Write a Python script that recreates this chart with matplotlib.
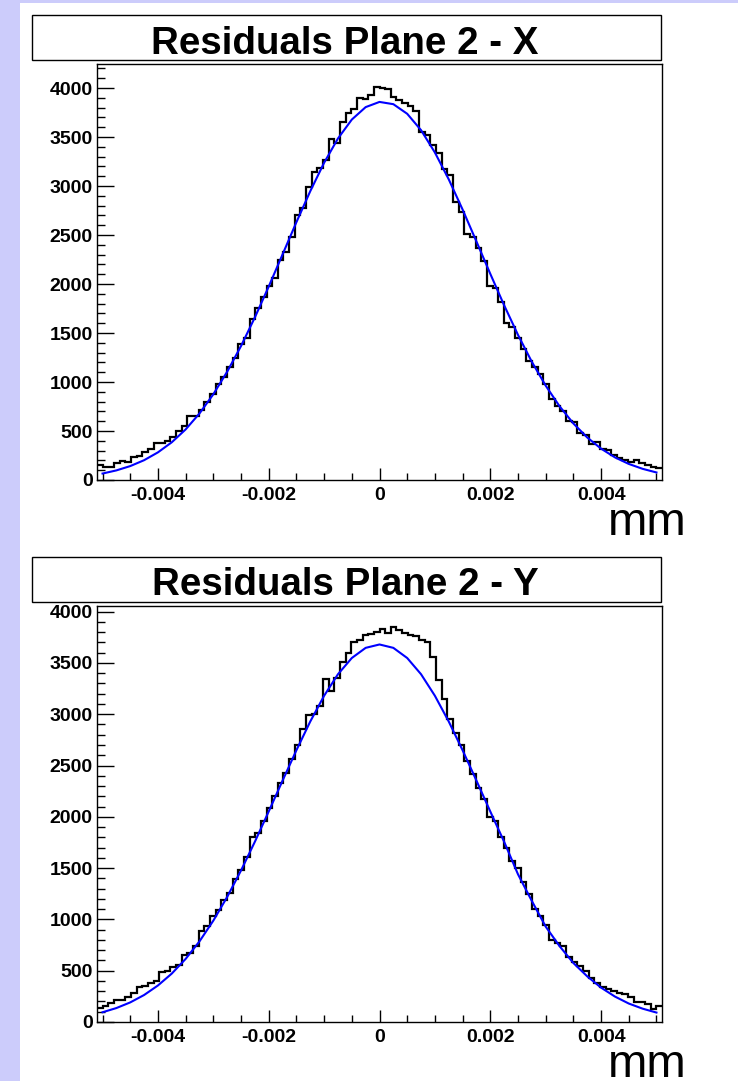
import numpy as np
import matplotlib
matplotlib.use("Agg")
import matplotlib.pyplot as plt
from matplotlib.patches import Rectangle
from matplotlib.ticker import MultipleLocator, FuncFormatter

plt.rcParams['font.family'] = ['Liberation Sans', 'DejaVu Sans']

""" DATA """
titles = ["Residuals Plane 2 - X", "Residuals Plane 2 - Y"]
unit = "mm"
x_range = (-0.0051, 0.0051)
n_bins = 100

# histogram counts (100 bins)
counts_x = [152, 128, 135, 176, 196, 186, 230, 243, 287, 321,
            378, 378, 399, 439, 500, 547, 649, 649, 716, 794,
            878, 980, 1047, 1149, 1243, 1385, 1453, 1638, 1757, 1865,
            1976, 2061, 2246, 2331, 2483, 2702, 2777, 2990, 3142, 3182,
            3270, 3479, 3439, 3655, 3750, 3790, 3902, 3892, 3925, 4013,
            4003, 3993, 3912, 3878, 3845, 3817, 3767, 3554, 3520, 3419,
            3334, 3175, 3115, 2838, 2736, 2506, 2483, 2365, 2230, 1976,
            1959, 1817, 1605, 1561, 1453, 1334, 1216, 1155, 1081, 980,
            828, 760, 709, 601, 591, 480, 456, 372, 388, 321,
            304, 253, 220, 203, 186, 209, 169, 152, 135, 125]

counts_y = [141, 154, 186, 213, 219, 239, 284, 337, 350, 376,
            399, 490, 500, 540, 556, 654, 670, 736, 883, 938,
            1030, 1095, 1190, 1260, 1390, 1480, 1610, 1800, 1840, 1960,
            2090, 2200, 2330, 2430, 2566, 2698, 2856, 2988, 3001, 3084,
            3339, 3229, 3355, 3510, 3597, 3703, 3723, 3774, 3780, 3800,
            3830, 3790, 3850, 3820, 3790, 3770, 3760, 3720, 3700, 3560,
            3330, 3150, 2950, 2820, 2700, 2540, 2420, 2280, 2170, 2000,
            1960, 1800, 1700, 1570, 1500, 1360, 1250, 1100, 1030, 950,
            795, 768, 736, 631, 589, 546, 500, 425, 383, 337,
            317, 304, 278, 271, 239, 196, 196, 173, 131, 154]

# gaussian fit curves, sampled every 0.00025 mm
fit_x = np.arange(-20, 21) * 0.00025
fit_vals_x = [66, 98, 142, 202, 282, 385, 516, 679, 875, 1105,
              1367, 1659, 1974, 2302, 2631, 2947, 3237, 3485, 3678, 3805,
              3858, 3835, 3737, 3570, 3342, 3068, 2760, 2434, 2104, 1783,
              1481, 1206, 963, 753, 577, 434, 320, 231, 164, 114, 77]
fit_vals_y = [95, 136, 191, 263, 356, 472, 615, 786, 988, 1219,
              1477, 1757, 2052, 2353, 2649, 2929, 3180, 3390, 3548, 3647,
              3680, 3647, 3548, 3390, 3180, 2929, 2649, 2353, 2052, 1757,
              1440, 1180, 930, 740, 575, 445, 335, 248, 180, 130, 92]

y_max = [4245, 4055]

""" MAKING A PICTURE """
W, H = 738, 1081
fig = plt.figure(figsize=(W / 100, H / 100), dpi=100)
fig.patch.set_facecolor('#ccccfb')
fig.patches.append(Rectangle((20 / W, 0), 1 - 20 / W, 1 - 3 / H,
                             transform=fig.transFigure, facecolor='white',
                             edgecolor='none', zorder=-10))

edges = np.linspace(x_range[0], x_range[1], n_bins + 1)
panels = [(64, 480, 15, 60, 54, 535), (606, 1022, 557, 602, 595, 1077)]
data = [(counts_x, fit_vals_x), (counts_y, fit_vals_y)]

for i, (top, bot, tb_top, tb_bot, title_base, mm_base) in enumerate(panels):
    ax = fig.add_axes([97 / W, 1 - bot / H, 565 / W, (bot - top) / H])
    ax.set_zorder(5)
    counts, fit_vals = data[i]
    ax.stairs(counts, edges, color='black', linewidth=1.6, baseline=None)
    ax.plot(fit_x, fit_vals, color='#0000ff', linewidth=1.5)
    ax.set_xlim(*x_range)
    ax.set_ylim(0, y_max[i])
    ax.xaxis.set_major_locator(MultipleLocator(0.002))
    ax.xaxis.set_minor_locator(MultipleLocator(0.0005))
    ax.yaxis.set_major_locator(MultipleLocator(500))
    ax.yaxis.set_minor_locator(MultipleLocator(100))
    ax.xaxis.set_major_formatter(FuncFormatter(lambda v, p: f"{v:g}" if abs(v) > 1e-9 else "0"))
    ax.tick_params(which='both', direction='in', top=False, right=False,
                   labelsize=14, width=1)
    ax.tick_params(axis='y', which='major', length=12, pad=3)
    ax.tick_params(axis='y', which='minor', length=6)
    ax.tick_params(axis='x', which='major', length=8.5, pad=5)
    ax.tick_params(axis='x', which='minor', length=5)
    for lab in ax.get_xticklabels() + ax.get_yticklabels():
        lab.set_fontweight('bold')
    for sp in ax.spines.values():
        sp.set_linewidth(1)

    # title box
    fig.patches.append(Rectangle((32 / W, 1 - tb_bot / H), 629 / W, (tb_bot - tb_top) / H,
                                 transform=fig.transFigure, facecolor='white',
                                 edgecolor='black', linewidth=1, zorder=1))
    fig.text(345 / W, 1 - title_base / H, titles[i], ha='center', va='baseline',
             fontsize=27.7, fontweight='bold', zorder=6)
    fig.text(608 / W, 1 - mm_base / H, unit, ha='left', va='baseline', fontsize=34, zorder=6)

plt.savefig("out.png", dpi=100)
